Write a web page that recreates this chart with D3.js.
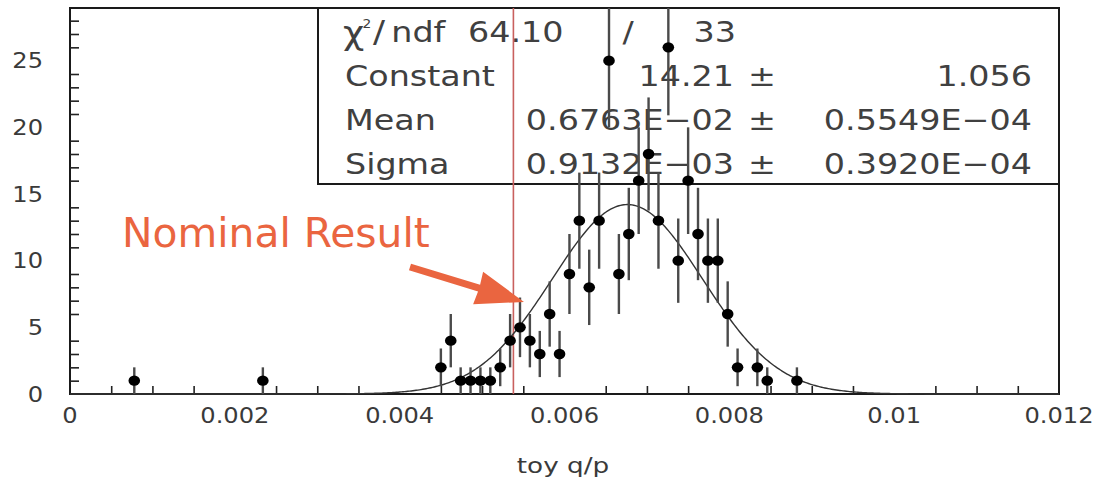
<!DOCTYPE html>
<html>
<head>
<meta charset="utf-8">
<script src="https://cdn.jsdelivr.net/npm/d3@7"></script>
<style>
  html, body { margin: 0; padding: 0; background: #ffffff; }
  svg { display: block; }
  text { font-family: "DejaVu Sans", "Liberation Sans", sans-serif; }
</style>
</head>
<body>
<svg id="chart" width="1098" height="485"></svg>
<script>
// Toy q/p histogram (bin width 0.00012) with its Gaussian fit
const binCenters = [0.00078, 0.00234, 0.00450, 0.00462, 0.00474, 0.00486, 0.00498, 0.00510,
  0.00522, 0.00534, 0.00546, 0.00558, 0.00570, 0.00582, 0.00594, 0.00606, 0.00618, 0.00630,
  0.00642, 0.00654, 0.00666, 0.00678, 0.00690, 0.00702, 0.00714, 0.00726, 0.00738, 0.00750,
  0.00762, 0.00774, 0.00786, 0.00798, 0.00810, 0.00834, 0.00846, 0.00882];
const counts = [1, 1, 2, 4, 1, 1, 1, 1,
  2, 4, 5, 4, 3, 6, 3, 9, 13, 8,
  13, 25, 9, 12, 16, 18, 13, 26, 10, 16,
  12, 10, 10, 6, 2, 2, 1, 1];

// Fit results
const fitConstant = 14.21;
const fitMean = 0.006763;
const fitSigma = 0.0009132;
const nominalResult = 0.00538;

// Stats box contents
const chi2Value = "64.10";
const ndfValue = "33";
const parNames = ["Constant", "Mean", "Sigma"];
const parValues = ["14.21", "0.6763E\u221202", "0.9132E\u221203"];
const parErrors = ["1.056", "0.5549E\u221204", "0.3920E\u221204"];

// Axes
const xTicks = [0, 0.002, 0.004, 0.006, 0.008, 0.01, 0.012];
const xTickLabels = ["0", "0.002", "0.004", "0.006", "0.008", "0.01", "0.012"];
const yTicks = [0, 5, 10, 15, 20, 25];
const yTickLabels = ["0", "5", "10", "15", "20", "25"];
const xTitle = "toy q/p";
const annotationText = "Nominal Result";

const svg = d3.select("#chart");
const frame = { left: 70, right: 1059, top: 8, bottom: 394 };

const x = d3.scaleLinear().domain([0, 0.012]).range([frame.left, frame.right]);
const y = d3.scaleLinear().domain([0, 28.95]).range([frame.bottom, frame.top]);

function label(g, px, py, str, size, anchor, sx, fill) {
  return g.append("text")
    .attr("transform", `translate(${px},${py}) scale(${sx},1)`)
    .attr("text-anchor", anchor)
    .style("font-size", size + "px")
    .attr("fill", fill || "#2a2a2a")
    .text(str);
}

// Frame
svg.append("rect")
  .attr("x", frame.left).attr("y", frame.top)
  .attr("width", frame.right - frame.left).attr("height", frame.bottom - frame.top)
  .attr("fill", "none").attr("stroke", "#1a1a1a").attr("stroke-width", 2);

// X axis ticks (drawn inward from the bottom edge)
const xAxisG = svg.append("g").attr("transform", `translate(0,${frame.bottom})`);
xAxisG.call(d3.axisTop(x).tickValues(xTicks).tickSize(16).tickFormat(""));
const xMinor = d3.range(0, 0.0120001, 0.0005).filter(v => Math.abs(v / 0.002 - Math.round(v / 0.002)) > 1e-6);
xAxisG.call(d3.axisTop(x).tickValues(xMinor).tickSize(8).tickFormat(""));
xAxisG.selectAll(".domain").remove();
xAxisG.selectAll(".tick line").attr("stroke", "#222").attr("stroke-width", 1.6);
xTicks.forEach((v, i) => label(svg, x(v), 423, xTickLabels[i], 21, "middle", 1.15, "#3a3a3a"));

// Y axis ticks (drawn inward from the left edge)
const yAxisG = svg.append("g").attr("transform", `translate(${frame.left},0)`);
yAxisG.call(d3.axisRight(y).tickValues(yTicks).tickSize(17).tickFormat(""));
const yMinor = d3.range(1, 29).filter(v => v % 5 !== 0);
yAxisG.call(d3.axisRight(y).tickValues(yMinor).tickSize(9).tickFormat(""));
yAxisG.selectAll(".domain").remove();
yAxisG.selectAll(".tick line").attr("stroke", "#222").attr("stroke-width", 1.6);
yTicks.forEach((v, i) => label(svg, 43, y(v) + 7.5, yTickLabels[i], 21, "end", 1.15, "#3a3a3a"));

// Axis title
label(svg, 563, 473, xTitle, 21, "middle", 1.25, "#3a3a3a");

// Stats box
const stats = svg.append("g");
stats.append("rect")
  .attr("x", 318).attr("y", frame.top)
  .attr("width", frame.right - 318).attr("height", 184 - frame.top)
  .attr("fill", "none").attr("stroke", "#1a1a1a").attr("stroke-width", 2);

const rowBase = [42, 86, 130, 174];
const statSize = 29, statSx = 1.15, statFill = "#404040";
const chi = stats.append("text")
  .attr("transform", `translate(343,${rowBase[0]}) scale(${statSx},1)`)
  .style("font-size", statSize + "px").attr("fill", statFill);
chi.append("tspan").attr("x", 0).attr("y", 2).style("font-size", "32px").text("\u03c7");
chi.append("tspan").attr("x", 17).attr("y", -14).style("font-size", "12px").text("2");
chi.append("tspan").attr("x", 26).attr("y", 0).style("font-size", "31px").text("/");
chi.append("tspan").attr("x", 42).attr("y", 0).text("ndf");
label(stats, 468, rowBase[0], chi2Value, statSize, "start", statSx, statFill);
label(stats, 628, rowBase[0], "/", statSize, "middle", statSx, statFill);
label(stats, 736, rowBase[0], ndfValue, statSize, "end", statSx, statFill);
parNames.forEach((name, i) => {
  const b = rowBase[i + 1];
  label(stats, 345, b, name, statSize, "start", statSx, statFill);
  label(stats, 734, b, parValues[i], statSize, "end", statSx, statFill);
  label(stats, 762, b, "\u00b1", statSize, "middle", statSx, statFill);
  label(stats, 1032, b, parErrors[i], statSize, "end", statSx, statFill);
});

// Nominal result marker line
svg.append("line")
  .attr("x1", x(nominalResult)).attr("x2", x(nominalResult))
  .attr("y1", frame.top).attr("y2", frame.bottom)
  .attr("stroke", "#c9605e").attr("stroke-width", 1.6);

// Gaussian fit curve
const gauss = v => fitConstant * Math.exp(-0.5 * Math.pow((v - fitMean) / fitSigma, 2));
const curvePts = d3.range(0, 0.0120001, 0.00002).map(v => [v, gauss(v)]);
svg.append("path")
  .datum(curvePts)
  .attr("d", d3.line().x(d => x(d[0])).y(d => y(d[1])))
  .attr("fill", "none").attr("stroke", "#333").attr("stroke-width", 1.4);

// Data points with Poisson error bars
const pts = binCenters.map((c, i) => ({ x: c, n: counts[i] }));
svg.append("g").selectAll("line").data(pts).join("line")
  .attr("x1", d => x(d.x)).attr("x2", d => x(d.x))
  .attr("y1", d => Math.max(frame.top, y(d.n + Math.sqrt(d.n))))
  .attr("y2", d => y(Math.max(0, d.n - Math.sqrt(d.n))))
  .attr("stroke", "#4a4a4a").attr("stroke-width", 2.4);
svg.append("g").selectAll("ellipse").data(pts).join("ellipse")
  .attr("cx", d => x(d.x)).attr("cy", d => y(d.n))
  .attr("rx", 5.8).attr("ry", 5.2)
  .attr("fill", "#000");

// Annotation with arrow
const accent = "#ea6540";
label(svg, 122, 247, annotationText, 40, "start", 1.02, accent);
const tail = [410, 267], tip = [524, 302];
const dx = tip[0] - tail[0], dy = tip[1] - tail[1];
const len = Math.hypot(dx, dy);
const u = [dx / len, dy / len], nrm = [-u[1], u[0]];
const headLen = 48, headHalf = 17, shaftHalf = 3.5;
const base = [tip[0] - headLen * u[0], tip[1] - headLen * u[1]];
const P = (p, a, b) => [p[0] + a * nrm[0] + b * u[0], p[1] + a * nrm[1] + b * u[1]];
const arrowPts = [
  P(tail, -shaftHalf, 0), P(base, -shaftHalf, 1), P(base, -headHalf, 0),
  tip, P(base, headHalf, 0), P(base, shaftHalf, 1), P(tail, shaftHalf, 0)
];
svg.append("path")
  .attr("d", "M" + arrowPts.map(p => p.join(",")).join("L") + "Z")
  .attr("fill", accent);
</script>
</body>
</html>
